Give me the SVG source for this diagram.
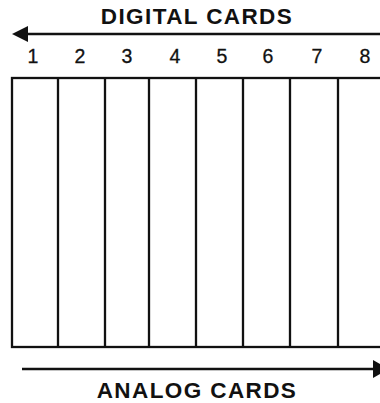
<svg xmlns="http://www.w3.org/2000/svg" width="380" height="403" viewBox="0 0 380 403">
<style>
.title{font-family:"Liberation Sans",Arial,sans-serif;font-weight:bold;font-size:22.5px;letter-spacing:1.4px;fill:#111;text-anchor:middle}
.num{font-family:"Liberation Sans",Arial,sans-serif;font-size:19.5px;fill:#111;text-anchor:middle;stroke:#111;stroke-width:0.3}
.ln{stroke:#111;stroke-width:2.3;fill:none}
</style>
<rect width="380" height="403" fill="#fff"/>
<g id="labels">
<text class="title" x="197" y="24">DIGITAL CARDS</text>
<text class="title" x="197" y="398">ANALOG CARDS</text>
</g>
<g id="numbers">
<text class="num" x="33" y="63">1</text>
<text class="num" x="80" y="63">2</text>
<text class="num" x="127" y="63">3</text>
<text class="num" x="175" y="63">4</text>
<text class="num" x="222" y="63">5</text>
<text class="num" x="268" y="63">6</text>
<text class="num" x="317" y="63">7</text>
<text class="num" x="365" y="63">8</text>
</g>
<g id="rack">
<rect class="ln" x="12" y="78" width="380" height="269"/>
<line class="ln" x1="58" y1="78" x2="58" y2="347"/>
<line class="ln" x1="105" y1="78" x2="105" y2="347"/>
<line class="ln" x1="149" y1="78" x2="149" y2="347"/>
<line class="ln" x1="196" y1="78" x2="196" y2="347"/>
<line class="ln" x1="243" y1="78" x2="243" y2="347"/>
<line class="ln" x1="290" y1="78" x2="290" y2="347"/>
<line class="ln" x1="338" y1="78" x2="338" y2="347"/>
</g>
<g id="connectors">
<line class="ln" x1="26" y1="34" x2="380" y2="34"/>
<polygon points="12,34 28,26 28,42" fill="#111"/>
<line class="ln" x1="22" y1="369" x2="375" y2="369"/>
<polygon points="373,360 373,378 389,369" fill="#111"/>
</g>
</svg>
